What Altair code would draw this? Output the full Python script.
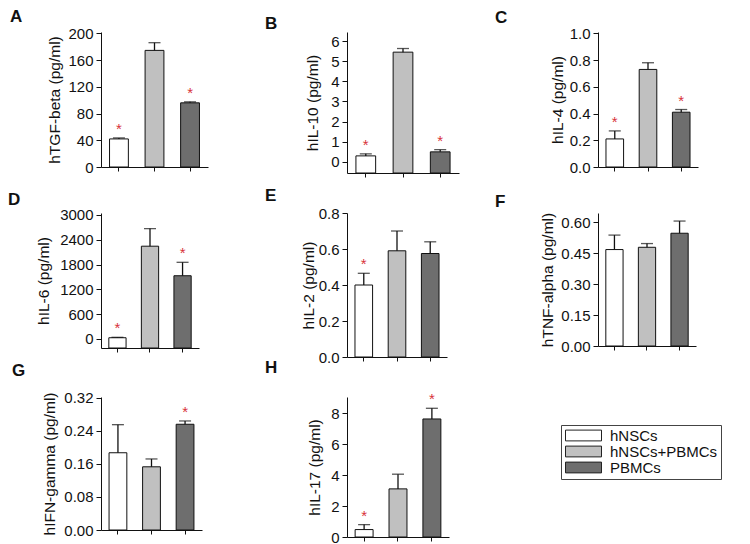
import altair as alt
import pandas as pd

groups = ["hNSCs", "hNSCs+PBMCs", "PBMCs"]
fills = ["#ffffff", "#c0c0c0", "#6e6e6e"]

letters = ["A", "B", "C", "D", "E", "F", "G", "H"]
ytitles = ["hTGF-beta (pg/ml)", "hIL-10 (pg/ml)", "hIL-4 (pg/ml)", "hIL-6 (pg/ml)",
           "hIL-2 (pg/ml)", "hTNF-alpha (pg/ml)", "hIFN-gamma (pg/ml)", "hIL-17 (pg/ml)"]

tgf_mean = [42, 174.5, 96]
tgf_err = [1.5, 11.5, 1.5]
tgf_sig = [True, False, True]

il10_mean = [0.30, 5.45, 0.50]
il10_err = [0.10, 0.18, 0.11]
il10_sig = [True, False, True]

il4_mean = [0.21, 0.73, 0.41]
il4_err = [0.06, 0.05, 0.02]
il4_sig = [True, False, True]

il6_mean = [30, 2245, 1530]
il6_err = [10, 425, 325]
il6_sig = [True, False, True]

il2_mean = [0.40, 0.59, 0.575]
il2_err = [0.065, 0.11, 0.065]
il2_sig = [True, False, False]

tnf_mean = [0.467, 0.478, 0.546]
tnf_err = [0.070, 0.018, 0.059]
tnf_sig = [False, False, False]

ifn_mean = [0.187, 0.153, 0.256]
ifn_err = [0.068, 0.019, 0.008]
ifn_sig = [False, False, True]

il17_mean = [0.48, 3.11, 7.63]
il17_err = [0.32, 0.95, 0.69]
il17_sig = [True, False, True]

means = [tgf_mean, il10_mean, il4_mean, il6_mean, il2_mean, tnf_mean, ifn_mean, il17_mean]
errs = [tgf_err, il10_err, il4_err, il6_err, il2_err, tnf_err, ifn_err, il17_err]
sigs = [tgf_sig, il10_sig, il4_sig, il6_sig, il2_sig, tnf_sig, ifn_sig, il17_sig]

domains = [(0, 202), (-0.55, 6.45), (0, 1.01), (-218, 3048), (0, 0.8), (0, 0.644), (0, 0.322), (0, 9.05)]
ticks = [
    [0, 40, 80, 120, 160, 200],
    [0, 1, 2, 3, 4, 5, 6],
    [0, 0.2, 0.4, 0.6, 0.8, 1.0],
    [0, 600, 1200, 1800, 2400, 3000],
    [0, 0.2, 0.4, 0.6, 0.8],
    [0, 0.15, 0.30, 0.45, 0.60],
    [0, 0.08, 0.16, 0.24, 0.32],
    [0, 2, 4, 6, 8],
]
fmts = ["d", "d", ".1f", "d", ".1f", ".2f", ".2f", "d"]
tpads = [5, 10, 4, 8, 2, 5, 6, 8]
heights = [135, 141, 135, 135, 144, 133, 133, 140]
widths = [107, 112, 100, 98, 100, 98, 101, 102]
letter_dx = [-91, -82, -103, -93, -82, -103, -89, -82]
letter_off = [0, -1, -1, -1, 1, 1, 11, 15]

legend = alt.Legend(title=None, orient="none", legendX=460, legendY=393,
                    strokeColor="#444", padding=3,
                    symbolType="M-3,-0.9L3,-0.9L3,0.9L-3,0.9Z", symbolSize=144,
                    symbolOffset=12,
                    symbolStrokeColor="#222", symbolStrokeWidth=1,
                    labelFont="Liberation Sans", labelFontSize=15, labelColor="#111",
                    labelOffset=19, rowPadding=0)


def panel(i):
    lo, hi = domains[i]
    df = pd.DataFrame({"group": groups, "mean": means[i], "err": errs[i], "sig": sigs[i]})
    df["top"] = df["mean"] + df["err"]
    xs = alt.Scale(paddingInner=0.47, paddingOuter=0.24)
    xax = alt.Axis(labels=False, title=None, tickSize=4, domainColor="#111", tickColor="#111")
    xe = alt.X("group:N", sort=groups, scale=xs, axis=xax)
    ys = alt.Scale(domain=[lo, hi], nice=False, zero=False)
    yax = alt.Axis(title=ytitles[i], values=ticks[i], format=fmts[i], titlePadding=tpads[i],
                   labelOverlap=False, labelFlush=False)
    base = alt.Chart(df)
    bars = base.mark_bar(stroke="#111", strokeWidth=1).encode(
        x=xe,
        y=alt.Y("mean:Q", scale=ys, axis=yax),
        y2=alt.datum(lo),
        fill=alt.Fill("group:N", sort=groups, scale=alt.Scale(domain=groups, range=fills), legend=legend),
    )
    rule = base.mark_rule(color="#111", strokeWidth=1.3).encode(
        x=xe, y=alt.Y("mean:Q", scale=ys, axis=yax), y2="top:Q")
    cap = base.mark_tick(color="#111", thickness=1.3, size=12).encode(
        x=xe, y=alt.Y("top:Q", scale=ys, axis=yax))
    star = base.transform_filter("datum.sig").mark_text(
        text="*", color="#d8323a", fontSize=15, dy=-4, baseline="alphabetic"
    ).encode(x=xe, y=alt.Y("top:Q", scale=ys, axis=yax))
    return alt.layer(bars, rule, cap, star).properties(
        width=widths[i], height=heights[i],
        title=alt.Title(letters[i], anchor="start", frame="group", dx=letter_dx[i],
                        fontSize=17, fontWeight="bold", font="Liberation Sans",
                        offset=letter_off[i], color="#111"),
    )


panels = [panel(i) for i in range(8)]

chart = alt.concat(*panels, columns=3, bounds="flush",
                   spacing={"row": 40, "column": 139}).properties(
    padding={"left": 0, "top": 0, "right": 0, "bottom": 0}
).configure_view(stroke=None).configure_axis(
    labelFont="Liberation Sans", labelFontSize=15, labelColor="#111",
    titleFont="Liberation Sans", titleFontSize=15.5, titleFontWeight="normal", titleColor="#111",
    domainColor="#111", tickColor="#111", grid=False, tickSize=5, labelPadding=3,
)

chart.save("out.html", embed_options={"renderer": "svg", "actions": False})
